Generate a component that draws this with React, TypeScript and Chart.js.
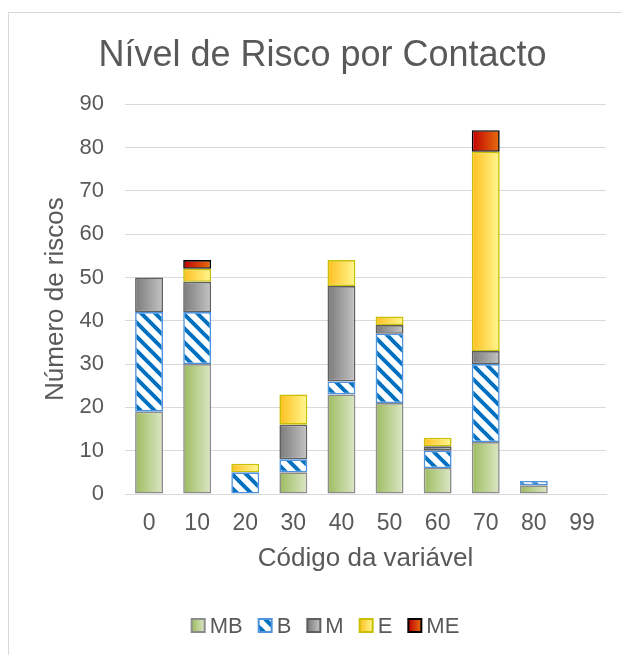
import React, { useEffect, useRef } from 'react';
import { Chart, registerables } from 'chart.js';

Chart.register(...registerables);

// ---- data ----
const categories = ['0', '10', '20', '30', '40', '50', '60', '70', '80', '99'];
const seriesNames = ['MB', 'B', 'M', 'E', 'ME'];
const mbValues = [19, 30, 0, 5, 23, 21, 6, 12, 2, 0];
const bValues = [23, 12, 5, 3, 3, 16, 4, 18, 1, 0];
const mValues = [8, 7, 0, 8, 22, 2, 1, 3, 0, 0];
const eValues = [0, 3, 2, 7, 6, 2, 2, 46, 0, 0];
const meValues = [0, 2, 0, 0, 0, 0, 0, 5, 0, 0];
const yMin = 0;
const yMax = 90;
const yStep = 10;

const chartTitle = 'Nível de Risco por Contacto';
const xTitle = 'Código da variável';
const yTitle = 'Número de riscos';

// ---- style ----
const FONT = "'Liberation Sans', Arial, sans-serif";
const TEXT = '#595959';
const BAR_PCT = 0.58;

type Style = { c1: string; c2: string; border: string; solid: string; hatch?: boolean };
const styles: Style[] = [
  { c1: '#9dbb5f', c2: '#dce7c6', border: '#8c8c8c', solid: '#bcd190' },
  { c1: '#ffffff', c2: '#ffffff', border: '#4f93dc', solid: '#ffffff', hatch: true },
  { c1: '#7a7a7a', c2: '#c4c4c4', border: '#5f5f5f', solid: '#a0a0a0' },
  { c1: '#ffbf1f', c2: '#fff78f', border: '#c8c000', solid: '#ffdb5a' },
  { c1: '#c00000', c2: '#e8700f', border: '#000000', solid: '#d43a08' },
];

function makeHatch(): CanvasPattern | string {
  const s = 14;
  const c = document.createElement('canvas');
  c.width = s;
  c.height = s;
  const g = c.getContext('2d');
  if (!g) return '#ffffff';
  g.fillStyle = '#ffffff';
  g.fillRect(0, 0, s, s);
  g.strokeStyle = '#0070c0';
  g.lineWidth = 4;
  for (const k of [-1, 0, 1]) {
    g.beginPath();
    g.moveTo(k * s - 3, -3);
    g.lineTo(k * s + s + 3, s + 3);
    g.stroke();
  }
  return g.createPattern(c, 'repeat') || '#ffffff';
}

export default function App() {
  const canvasRef = useRef<HTMLCanvasElement | null>(null);

  useEffect(() => {
    const canvas = canvasRef.current;
    if (!canvas) return;
    const hatch = makeHatch();

    const gradFill = (st: Style) => (ctx: any) => {
      if (st.hatch) return hatch;
      if (ctx.type !== 'data') return st.solid;
      const chart = ctx.chart;
      const area = chart.chartArea;
      const xs = chart.scales && chart.scales.x;
      if (!area || !xs) return st.solid;
      const cx = xs.getPixelForValue(ctx.dataIndex);
      const w = ((area.right - area.left) / categories.length) * BAR_PCT;
      if (!isFinite(cx) || !isFinite(w) || w <= 0) return st.solid;
      const g = chart.ctx.createLinearGradient(cx - w / 2, 0, cx + w / 2, 0);
      g.addColorStop(0, st.c1);
      g.addColorStop(1, st.c2);
      return g;
    };

    const allValues = [mbValues, bValues, mValues, eValues, meValues];
    const datasets = allValues.map((vals, i) => ({
      label: seriesNames[i],
      data: vals.map((v) => (v === 0 ? null : v)),
      backgroundColor: gradFill(styles[i]),
      borderColor: styles[i].border,
      borderWidth: 1.6,
      borderSkipped: false,
      barPercentage: BAR_PCT,
      categoryPercentage: 1,
    }));

    const legendPlugin = {
      id: 'customLegend',
      afterDraw(chart: any) {
        const ctx: CanvasRenderingContext2D = chart.ctx;
        ctx.save();
        ctx.font = `22px ${FONT}`;
        const box = 13;
        const gap = 5;
        const spacing = 16;
        const widths = seriesNames.map((n) => box + gap + ctx.measureText(n).width);
        const total = widths.reduce((a, b) => a + b, 0) + spacing * (seriesNames.length - 1);
        const centerX = 316.5;
        const cy = 612.5;
        let x = centerX - total / 2;
        seriesNames.forEach((n, i) => {
          const st = styles[i];
          let fill: any;
          if (st.hatch) fill = hatch;
          else {
            const g = ctx.createLinearGradient(x, 0, x + box, 0);
            g.addColorStop(0, st.c1);
            g.addColorStop(1, st.c2);
            fill = g;
          }
          ctx.fillStyle = fill;
          ctx.fillRect(x, cy - box / 2, box, box);
          ctx.lineWidth = 2;
          ctx.strokeStyle = st.border;
          ctx.strokeRect(x, cy - box / 2, box, box);
          ctx.fillStyle = TEXT;
          ctx.textBaseline = 'middle';
          ctx.textAlign = 'left';
          ctx.fillText(n, x + box + gap, cy + 1);
          x += widths[i] + spacing;
        });
        ctx.restore();
      },
    };

    const chart = new Chart(canvas, {
      type: 'bar',
      data: { labels: categories, datasets },
      plugins: [legendPlugin],
      options: {
        animation: false,
        responsive: false,
        maintainAspectRatio: false,
        devicePixelRatio: 1,
        layout: { padding: { left: 30, right: 16, top: 0, bottom: 49 } },
        plugins: {
          legend: { display: false },
          tooltip: { enabled: false },
          title: {
            display: true,
            text: chartTitle,
            color: TEXT,
            font: { family: FONT, size: 36, weight: 'normal' },
            padding: { top: 21, bottom: 27 },
          },
        },
        scales: {
          x: {
            stacked: true,
            grid: { display: false, drawTicks: false },
            border: { display: true, color: '#d9d9d9', width: 1 },
            ticks: { color: TEXT, font: { family: FONT, size: 23 }, padding: 16, maxRotation: 0 },
            title: {
              display: true,
              text: xTitle,
              color: TEXT,
              font: { family: FONT, size: 26 },
              padding: { top: 4, bottom: 32 },
            },
            afterFit: (s: any) => {
              s.height = 112;
            },
          },
          y: {
            stacked: true,
            min: yMin,
            max: yMax,
            grid: { color: '#d9d9d9', lineWidth: 1, drawTicks: false },
            border: { display: false },
            ticks: { stepSize: yStep, color: TEXT, font: { family: FONT, size: 22 }, padding: 21 },
            title: {
              display: true,
              text: yTitle,
              color: TEXT,
              font: { family: FONT, size: 26 },
              padding: { top: 1, bottom: 0 },
            },
            afterFit: (s: any) => {
              s.width = 86;
            },
          },
        },
      },
    });
    return () => chart.destroy();
  }, []);

  return (
    <div
      style={{
        position: 'fixed',
        left: 8,
        top: 12,
        right: 0,
        bottom: 0,
        borderLeft: '1px solid #d9d9d9',
        borderTop: '1px solid #d9d9d9',
        background: '#ffffff',
        overflow: 'hidden',
      }}
    >
      <canvas ref={canvasRef} width={613} height={642} style={{ display: 'block' }} />
    </div>
  );
}
